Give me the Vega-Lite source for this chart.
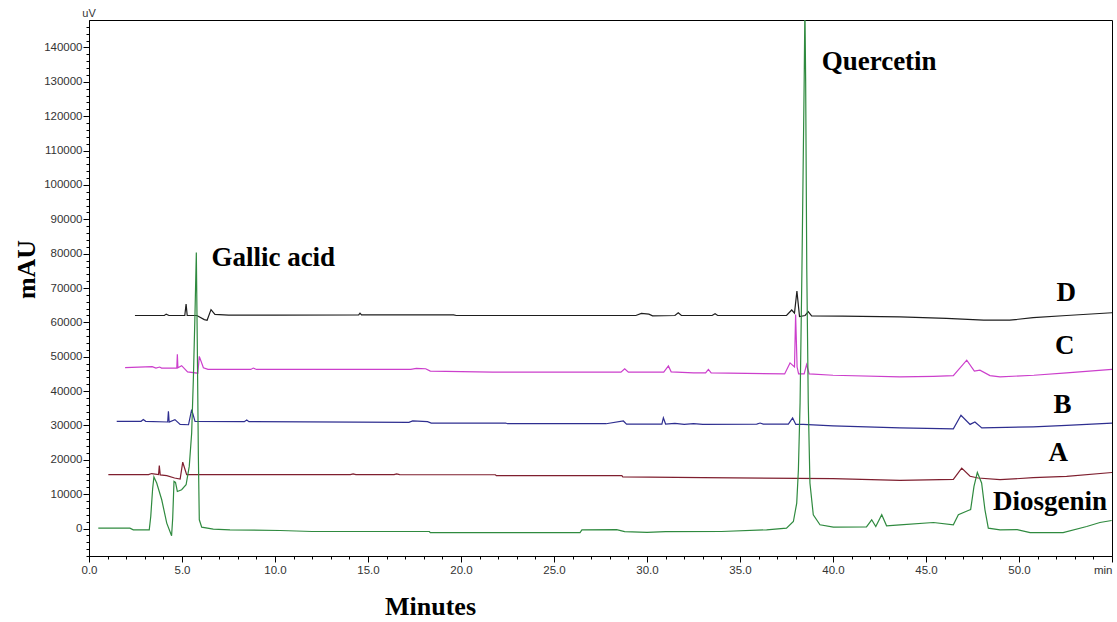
{
  "$schema": "https://vega.github.io/schema/vega-lite/v6.json",
  "width": 1023,
  "height": 536,
  "autosize": {"type": "none"},
  "padding": {"left": 89, "top": 20, "right": 5, "bottom": 66},
  "background": "white",
  "config": {
    "view": {"stroke": "black", "strokeWidth": 1},
    "axis": {"grid": false, "domainColor": "black", "tickColor": "black", "labelColor": "#333333", "labelFont": "Liberation Sans", "labelFontSize": 11.5, "titleFont": "Liberation Serif", "titleFontWeight": "bold", "titleFontSize": 26, "titleColor": "black", "labelOverlap": false, "labelFlush": false, "labelBound": false}
  },
  "datasets": {
    "traces": [
      {"s": "D", "t": 2.47, "v": 62000}, {"s": "D", "t": 4.05, "v": 62000}, {"s": "D", "t": 4.15, "v": 62400}, {"s": "D", "t": 4.3, "v": 62000},
      {"s": "D", "t": 5.15, "v": 62000}, {"s": "D", "t": 5.22, "v": 65300}, {"s": "D", "t": 5.28, "v": 62000}, {"s": "D", "t": 5.8, "v": 62000},
      {"s": "D", "t": 6.2, "v": 60800}, {"s": "D", "t": 6.35, "v": 60600}, {"s": "D", "t": 6.56, "v": 63700}, {"s": "D", "t": 6.77, "v": 62300},
      {"s": "D", "t": 7.5, "v": 62100}, {"s": "D", "t": 10, "v": 62100}, {"s": "D", "t": 14.5, "v": 62200}, {"s": "D", "t": 14.57, "v": 62700},
      {"s": "D", "t": 14.65, "v": 62200}, {"s": "D", "t": 19.6, "v": 62200}, {"s": "D", "t": 19.75, "v": 62000}, {"s": "D", "t": 29.4, "v": 62000},
      {"s": "D", "t": 29.7, "v": 62600}, {"s": "D", "t": 30.1, "v": 62400}, {"s": "D", "t": 30.3, "v": 61900}, {"s": "D", "t": 31.5, "v": 62000},
      {"s": "D", "t": 31.68, "v": 62800}, {"s": "D", "t": 31.85, "v": 62000}, {"s": "D", "t": 33.5, "v": 62000}, {"s": "D", "t": 33.66, "v": 62500},
      {"s": "D", "t": 33.8, "v": 62000}, {"s": "D", "t": 37.5, "v": 62000}, {"s": "D", "t": 37.78, "v": 63600}, {"s": "D", "t": 37.93, "v": 62700},
      {"s": "D", "t": 38.06, "v": 69100}, {"s": "D", "t": 38.2, "v": 61700}, {"s": "D", "t": 38.5, "v": 62000}, {"s": "D", "t": 38.67, "v": 63100},
      {"s": "D", "t": 38.85, "v": 61900}, {"s": "D", "t": 40.5, "v": 61800}, {"s": "D", "t": 43.6, "v": 61600}, {"s": "D", "t": 46.1, "v": 61150},
      {"s": "D", "t": 48.1, "v": 60650}, {"s": "D", "t": 49.5, "v": 60650}, {"s": "D", "t": 50.76, "v": 61350}, {"s": "D", "t": 52.56, "v": 62000},
      {"s": "D", "t": 55.0, "v": 62800},

      {"s": "C", "t": 1.94, "v": 46800}, {"s": "C", "t": 3.4, "v": 47100}, {"s": "C", "t": 3.6, "v": 46700}, {"s": "C", "t": 3.8, "v": 47000},
      {"s": "C", "t": 3.9, "v": 46700}, {"s": "C", "t": 4.72, "v": 46700}, {"s": "C", "t": 4.75, "v": 50700}, {"s": "C", "t": 4.78, "v": 46800},
      {"s": "C", "t": 4.98, "v": 47400}, {"s": "C", "t": 5.3, "v": 45600}, {"s": "C", "t": 5.85, "v": 45200}, {"s": "C", "t": 5.93, "v": 50100},
      {"s": "C", "t": 6.15, "v": 46800}, {"s": "C", "t": 6.4, "v": 46300}, {"s": "C", "t": 8.7, "v": 46300}, {"s": "C", "t": 8.83, "v": 46700},
      {"s": "C", "t": 9.0, "v": 46300}, {"s": "C", "t": 17.3, "v": 46300}, {"s": "C", "t": 17.6, "v": 46600}, {"s": "C", "t": 18.1, "v": 46500},
      {"s": "C", "t": 18.35, "v": 45800}, {"s": "C", "t": 21.7, "v": 45500}, {"s": "C", "t": 28.6, "v": 45500}, {"s": "C", "t": 28.8, "v": 46500},
      {"s": "C", "t": 29.0, "v": 45500}, {"s": "C", "t": 30.9, "v": 45500}, {"s": "C", "t": 31.15, "v": 47300}, {"s": "C", "t": 31.3, "v": 45600},
      {"s": "C", "t": 32.5, "v": 45300}, {"s": "C", "t": 33.15, "v": 45300}, {"s": "C", "t": 33.3, "v": 46300}, {"s": "C", "t": 33.45, "v": 45300},
      {"s": "C", "t": 37.4, "v": 45000}, {"s": "C", "t": 37.69, "v": 48200}, {"s": "C", "t": 37.93, "v": 47000}, {"s": "C", "t": 37.99, "v": 62300},
      {"s": "C", "t": 38.07, "v": 47000}, {"s": "C", "t": 38.15, "v": 45000}, {"s": "C", "t": 38.45, "v": 45000}, {"s": "C", "t": 38.58, "v": 47700},
      {"s": "C", "t": 38.72, "v": 45000}, {"s": "C", "t": 40, "v": 44600}, {"s": "C", "t": 43.6, "v": 44150}, {"s": "C", "t": 45.4, "v": 44300},
      {"s": "C", "t": 46.47, "v": 44500}, {"s": "C", "t": 47.19, "v": 49000}, {"s": "C", "t": 47.6, "v": 45800}, {"s": "C", "t": 47.9, "v": 46100},
      {"s": "C", "t": 48.44, "v": 44500}, {"s": "C", "t": 48.98, "v": 44150}, {"s": "C", "t": 50.8, "v": 44600}, {"s": "C", "t": 52.56, "v": 45300},
      {"s": "C", "t": 55.0, "v": 46300},

      {"s": "B", "t": 1.49, "v": 31200}, {"s": "B", "t": 2.8, "v": 31200}, {"s": "B", "t": 2.92, "v": 31700}, {"s": "B", "t": 3.05, "v": 31200},
      {"s": "B", "t": 4.23, "v": 31000}, {"s": "B", "t": 4.27, "v": 34100}, {"s": "B", "t": 4.31, "v": 31000}, {"s": "B", "t": 4.62, "v": 31700},
      {"s": "B", "t": 4.9, "v": 30300}, {"s": "B", "t": 5.35, "v": 30200}, {"s": "B", "t": 5.52, "v": 34600}, {"s": "B", "t": 5.7, "v": 31200},
      {"s": "B", "t": 8.35, "v": 31100}, {"s": "B", "t": 8.48, "v": 31600}, {"s": "B", "t": 8.6, "v": 31100}, {"s": "B", "t": 17.2, "v": 30900},
      {"s": "B", "t": 17.4, "v": 31300}, {"s": "B", "t": 18.2, "v": 31100}, {"s": "B", "t": 18.4, "v": 30700}, {"s": "B", "t": 22.4, "v": 30700},
      {"s": "B", "t": 22.5, "v": 30500}, {"s": "B", "t": 27.8, "v": 30500}, {"s": "B", "t": 28.73, "v": 31300}, {"s": "B", "t": 28.9, "v": 30400},
      {"s": "B", "t": 30.8, "v": 30400}, {"s": "B", "t": 30.88, "v": 32200}, {"s": "B", "t": 31.0, "v": 30400}, {"s": "B", "t": 31.5, "v": 30600},
      {"s": "B", "t": 32.0, "v": 30300}, {"s": "B", "t": 32.5, "v": 30500}, {"s": "B", "t": 33.0, "v": 30300}, {"s": "B", "t": 35.9, "v": 30400},
      {"s": "B", "t": 36.08, "v": 30700}, {"s": "B", "t": 36.25, "v": 30400}, {"s": "B", "t": 37.6, "v": 30400}, {"s": "B", "t": 37.83, "v": 32200},
      {"s": "B", "t": 38.0, "v": 30300}, {"s": "B", "t": 38.4, "v": 30300}, {"s": "B", "t": 40, "v": 29900}, {"s": "B", "t": 43.6, "v": 29270},
      {"s": "B", "t": 46.47, "v": 29000}, {"s": "B", "t": 46.88, "v": 32950}, {"s": "B", "t": 47.37, "v": 30300}, {"s": "B", "t": 47.63, "v": 31000},
      {"s": "B", "t": 48.0, "v": 29300}, {"s": "B", "t": 50.76, "v": 29600}, {"s": "B", "t": 52.56, "v": 30000}, {"s": "B", "t": 55.0, "v": 30700},

      {"s": "A", "t": 1.04, "v": 15700}, {"s": "A", "t": 3.2, "v": 15700}, {"s": "A", "t": 3.37, "v": 16000}, {"s": "A", "t": 3.74, "v": 15700},
      {"s": "A", "t": 3.78, "v": 18300}, {"s": "A", "t": 3.83, "v": 15600}, {"s": "A", "t": 4.18, "v": 15400}, {"s": "A", "t": 4.6, "v": 14700},
      {"s": "A", "t": 4.9, "v": 14400}, {"s": "A", "t": 5.04, "v": 19300}, {"s": "A", "t": 5.25, "v": 15700}, {"s": "A", "t": 14.05, "v": 15700},
      {"s": "A", "t": 14.2, "v": 15900}, {"s": "A", "t": 14.35, "v": 15700}, {"s": "A", "t": 16.4, "v": 15700}, {"s": "A", "t": 16.54, "v": 15900},
      {"s": "A", "t": 16.7, "v": 15700}, {"s": "A", "t": 21.85, "v": 15650}, {"s": "A", "t": 21.9, "v": 15400}, {"s": "A", "t": 28.65, "v": 15400},
      {"s": "A", "t": 28.7, "v": 15000}, {"s": "A", "t": 33, "v": 14800}, {"s": "A", "t": 40, "v": 14500}, {"s": "A", "t": 43.6, "v": 14000},
      {"s": "A", "t": 46.47, "v": 14300}, {"s": "A", "t": 46.92, "v": 17600}, {"s": "A", "t": 47.37, "v": 15200}, {"s": "A", "t": 47.8, "v": 14700},
      {"s": "A", "t": 48.98, "v": 14200}, {"s": "A", "t": 50.76, "v": 14800}, {"s": "A", "t": 52.56, "v": 15200}, {"s": "A", "t": 55.0, "v": 16300},

      {"s": "S", "t": 0.5, "v": 100}, {"s": "S", "t": 2.2, "v": 100}, {"s": "S", "t": 2.38, "v": -380}, {"s": "S", "t": 3.24, "v": -380},
      {"s": "S", "t": 3.32, "v": 3500}, {"s": "S", "t": 3.42, "v": 11500}, {"s": "S", "t": 3.49, "v": 15000}, {"s": "S", "t": 3.64, "v": 13240},
      {"s": "S", "t": 3.91, "v": 8370}, {"s": "S", "t": 4.18, "v": 1570}, {"s": "S", "t": 4.44, "v": -2130}, {"s": "S", "t": 4.5, "v": 3000},
      {"s": "S", "t": 4.57, "v": 13700}, {"s": "S", "t": 4.65, "v": 13400}, {"s": "S", "t": 4.75, "v": 10790}, {"s": "S", "t": 4.98, "v": 11290},
      {"s": "S", "t": 5.22, "v": 12740}, {"s": "S", "t": 5.39, "v": 18080}, {"s": "S", "t": 5.52, "v": 27820}, {"s": "S", "t": 5.61, "v": 43360},
      {"s": "S", "t": 5.7, "v": 62800}, {"s": "S", "t": 5.77, "v": 80300}, {"s": "S", "t": 5.82, "v": 55020}, {"s": "S", "t": 5.88, "v": 21000},
      {"s": "S", "t": 5.93, "v": 2540}, {"s": "S", "t": 6.06, "v": 400}, {"s": "S", "t": 6.68, "v": -170}, {"s": "S", "t": 7.58, "v": -380},
      {"s": "S", "t": 10.27, "v": -580}, {"s": "S", "t": 12, "v": -870}, {"s": "S", "t": 18.3, "v": -870}, {"s": "S", "t": 18.35, "v": -1170},
      {"s": "S", "t": 26.4, "v": -1170}, {"s": "S", "t": 26.5, "v": -380}, {"s": "S", "t": 28.37, "v": -300}, {"s": "S", "t": 28.8, "v": -900},
      {"s": "S", "t": 30, "v": -1150}, {"s": "S", "t": 31, "v": -900}, {"s": "S", "t": 34, "v": -870}, {"s": "S", "t": 36.43, "v": -380},
      {"s": "S", "t": 37.5, "v": 100}, {"s": "S", "t": 37.87, "v": 2040}, {"s": "S", "t": 38.05, "v": 7400}, {"s": "S", "t": 38.14, "v": 17100},
      {"s": "S", "t": 38.23, "v": 36570}, {"s": "S", "t": 38.28, "v": 55990}, {"s": "S", "t": 38.33, "v": 75440}, {"s": "S", "t": 38.45, "v": 130000},
      {"s": "S", "t": 38.49, "v": 152000}, {"s": "S", "t": 38.53, "v": 130000}, {"s": "S", "t": 38.59, "v": 75440}, {"s": "S", "t": 38.67, "v": 36650},
      {"s": "S", "t": 38.76, "v": 13240}, {"s": "S", "t": 38.94, "v": 4000}, {"s": "S", "t": 39.3, "v": 1080}, {"s": "S", "t": 40.02, "v": 400},
      {"s": "S", "t": 41.8, "v": 500}, {"s": "S", "t": 42.08, "v": 2540}, {"s": "S", "t": 42.3, "v": 580}, {"s": "S", "t": 42.62, "v": 4000},
      {"s": "S", "t": 42.88, "v": 790}, {"s": "S", "t": 43.6, "v": 1080}, {"s": "S", "t": 45.4, "v": 1750}, {"s": "S", "t": 46.47, "v": 1080},
      {"s": "S", "t": 46.74, "v": 4000}, {"s": "S", "t": 47.27, "v": 5250}, {"s": "S", "t": 47.4, "v": 5500}, {"s": "S", "t": 47.58, "v": 12250},
      {"s": "S", "t": 47.76, "v": 16330}, {"s": "S", "t": 47.99, "v": 13240}, {"s": "S", "t": 48.17, "v": 5450}, {"s": "S", "t": 48.35, "v": 100},
      {"s": "S", "t": 48.98, "v": -380}, {"s": "S", "t": 49.9, "v": -300}, {"s": "S", "t": 50.6, "v": -1170}, {"s": "S", "t": 52.37, "v": -1170},
      {"s": "S", "t": 53.64, "v": 580}, {"s": "S", "t": 54.35, "v": 1750}, {"s": "S", "t": 54.98, "v": 2330}
    ],
    "labels": [
      {"label": "Gallic acid", "t": 6.58, "v": 76400},
      {"label": "Quercetin", "t": 39.39, "v": 133500},
      {"label": "D", "t": 52.02, "v": 66200},
      {"label": "C", "t": 51.94, "v": 50650},
      {"label": "B", "t": 51.85, "v": 33650},
      {"label": "A", "t": 51.58, "v": 19540},
      {"label": "Diosgenin", "t": 48.6, "v": 5450}
    ],
    "units": [{"label": "uV", "t": 0, "v": 148000}]
  },
  "resolve": {"axis": {"x": "independent", "y": "independent"}},
  "layer": [
    {
      "data": {"name": "traces"},
      "mark": {"type": "line", "strokeOpacity": 0},
      "encoding": {
        "x": {
          "field": "t", "type": "quantitative",
          "scale": {"domain": [0, 55], "nice": false, "zero": false},
          "axis": {
            "orient": "bottom", "title": null, "labels": false, "domain": false, "tickSize": 3,
            "values": [1,2,3,4,6,7,8,9,11,12,13,14,16,17,18,19,21,22,23,24,26,27,28,29,31,32,33,34,36,37,38,39,41,42,43,44,46,47,48,49,51,52,53,54]
          }
        },
        "y": {
          "field": "v", "type": "quantitative",
          "scale": {"domain": [-8000, 148000], "nice": false, "zero": false},
          "axis": {
            "orient": "left", "title": null, "labels": false, "domain": false, "tickSize": 3,
            "values": [-8000,-6000,-4000,-2000,2000,4000,6000,8000,12000,14000,16000,18000,22000,24000,26000,28000,32000,34000,36000,38000,42000,44000,46000,48000,52000,54000,56000,58000,62000,64000,66000,68000,72000,74000,76000,78000,82000,84000,86000,88000,92000,94000,96000,98000,102000,104000,106000,108000,112000,114000,116000,118000,122000,124000,126000,128000,132000,134000,136000,138000,142000,144000,146000]
          }
        },
        "detail": {"field": "s", "type": "nominal"}
      }
    },
    {
      "data": {"name": "traces"},
      "mark": {"type": "line", "strokeWidth": 1.2, "clip": true, "interpolate": "linear"},
      "encoding": {
        "x": {
          "field": "t", "type": "quantitative",
          "axis": {
            "orient": "bottom",
            "title": "Minutes", "titleX": 341, "titleY": 58, "titleBaseline": "alphabetic", "titleAlign": "center",
            "values": [0, 5, 10, 15, 20, 25, 30, 35, 40, 45, 50, 55],
            "labelExpr": "datum.value == 55 ? 'min' : format(datum.value, '.1f')",
            "labelAlign": {"condition": {"test": "datum.value == 55", "value": "right"}, "value": "center"},
            "tickSize": 6,
            "labelPadding": 2
          }
        },
        "y": {
          "field": "v", "type": "quantitative",
          "axis": {
            "orient": "left",
            "title": "mAU", "titleX": -63, "titleY": 249, "titleBaseline": "middle", "titleAlign": "center", "titleAngle": -90,
            "values": [0,10000,20000,30000,40000,50000,60000,70000,80000,90000,100000,110000,120000,130000,140000],
            "format": "d",
            "tickSize": 6,
            "labelPadding": 1
          }
        },
        "color": {
          "field": "s", "type": "nominal",
          "scale": {"domain": ["D", "C", "B", "A", "S"], "range": ["#1e1e1e", "#cc3fcc", "#2e2e90", "#7f1f2f", "#2f8a3f"]},
          "legend": null
        },
        "order": {"field": "t", "type": "quantitative"}
      }
    },
    {
      "data": {"name": "labels"},
      "mark": {"type": "text", "font": "Liberation Serif", "fontWeight": "bold", "fontSize": 27, "align": "left", "baseline": "alphabetic", "color": "black"},
      "encoding": {
        "x": {"field": "t", "type": "quantitative", "axis": null},
        "y": {"field": "v", "type": "quantitative", "axis": null},
        "text": {"field": "label"}
      }
    },
    {
      "data": {"name": "units"},
      "mark": {"type": "text", "font": "Liberation Sans", "fontSize": 11, "align": "center", "baseline": "bottom", "dy": -1, "color": "#333333", "clip": false},
      "encoding": {
        "x": {"field": "t", "type": "quantitative", "axis": null},
        "y": {"field": "v", "type": "quantitative", "axis": null},
        "text": {"field": "label"}
      }
    }
  ]
}
